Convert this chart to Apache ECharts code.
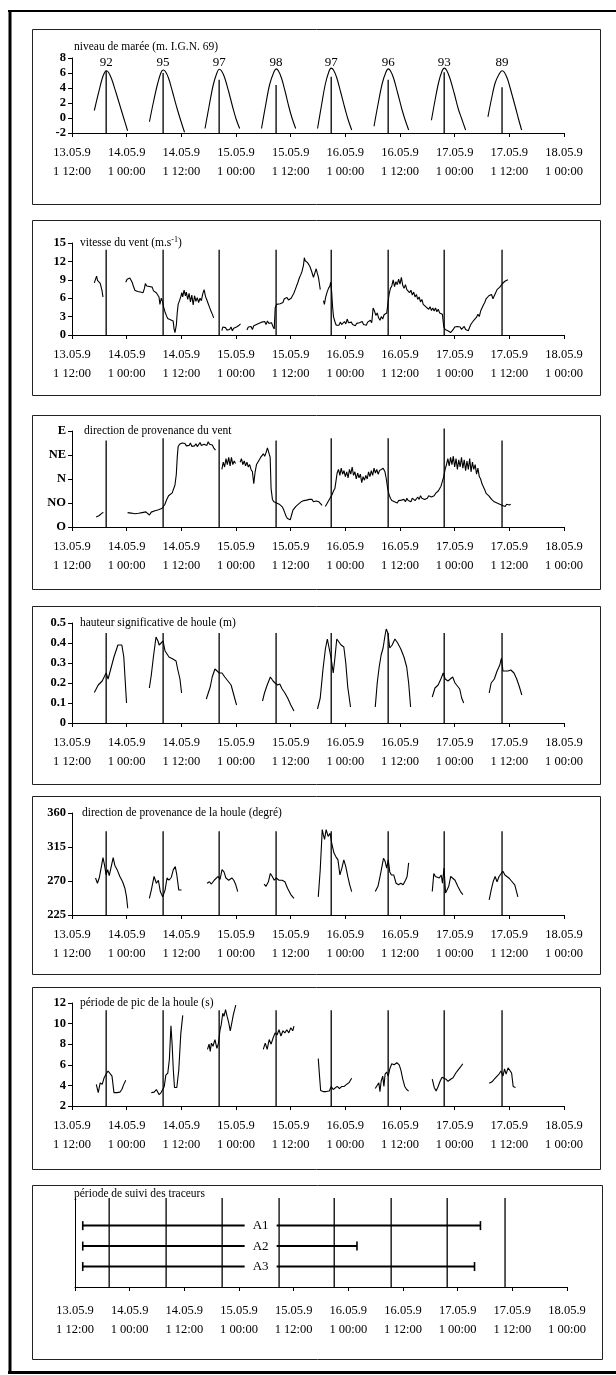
<!DOCTYPE html>
<html>
<head>
<meta charset="utf-8">
<script src="https://cdn.jsdelivr.net/npm/echarts@6/dist/echarts.min.js"></script>
<style>
html,body{margin:0;padding:0;background:#fff;}
#chart{width:616px;height:1375px;}
</style>
</head>
<body>
<div id="chart"></div>
<script>
// ---------------- DATA ----------------
// x values are hours after 13.05.91 12:00
const tickLabels = ['13.05.9\n1 12:00','14.05.9\n1 00:00','14.05.9\n1 12:00','15.05.9\n1 00:00','15.05.9\n1 12:00','16.05.9\n1 00:00','16.05.9\n1 12:00','17.05.9\n1 00:00','17.05.9\n1 12:00','18.05.9\n1 00:00'];
const highTideHours = [7.5, 20.0, 32.3, 44.8, 56.9, 69.4, 81.7, 94.4];
const tideCoef = [92, 95, 97, 98, 97, 96, 93, 89];
const tideLineTop = [6.3, 6.0, 5.1, 4.4, 5.5, 5.1, 6.1, 4.1];
const windDirLabels = ['O', 'NO', 'N', 'NE', 'E'];
const panelTitles = ['niveau de marée (m. I.G.N. 69)', 'vitesse du vent (m.s{sup|-1})', 'direction de provenance du vent', 'hauteur significative de houle (m)', 'direction de provenance de la houle (degré)', 'période de pic de la houle (s)', 'période de suivi des traceurs'];

const tideLevel = [
  [[4.9,1.0],[5.8,3.3],[6.6,5.2],[7.1,6.0],[7.5,6.3],[8.0,6.1],[8.7,5.2],[9.6,3.5],[10.6,1.5],[11.4,-0.1],[12.2,-1.7]],
  [[17.0,-0.5],[17.9,2.2],[18.8,4.6],[19.5,6.0],[20.0,6.4],[20.5,6.2],[21.2,5.3],[22.1,3.4],[23.1,1.2],[23.9,-0.4],[24.7,-1.9]],
  [[29.2,-1.4],[30.1,1.6],[31.0,4.4],[31.8,6.0],[32.3,6.5],[32.8,6.3],[33.5,5.4],[34.4,3.5],[35.3,1.4],[36.0,-0.1],[36.8,-1.4]],
  [[41.6,-1.4],[42.5,1.7],[43.4,4.5],[44.3,6.1],[44.8,6.55],[45.3,6.3],[46.0,5.3],[46.8,3.5],[47.6,1.5],[48.3,0.0],[49.1,-1.4]],
  [[53.9,-1.4],[54.8,1.8],[55.6,4.5],[56.4,6.2],[56.9,6.65],[57.4,6.4],[58.1,5.4],[59.0,3.4],[59.9,1.3],[60.6,-0.2],[61.4,-1.6]],
  [[66.3,-1.1],[67.2,1.9],[68.1,4.6],[68.9,6.1],[69.4,6.55],[69.9,6.3],[70.6,5.3],[71.5,3.3],[72.4,1.2],[73.1,-0.2],[73.9,-1.6]],
  [[78.9,-0.3],[79.7,2.4],[80.5,4.8],[81.2,6.2],[81.7,6.65],[82.2,6.4],[82.9,5.4],[83.9,3.3],[84.8,1.2],[85.6,-0.2],[86.4,-1.6]],
  [[91.3,0.15],[92.1,2.6],[92.9,4.7],[93.8,5.9],[94.4,6.3],[94.9,6.1],[95.6,5.2],[96.5,3.3],[97.4,1.3],[98.0,-0.1],[98.7,-1.6]]
];

const windSpeed = [
  [[4.9,8.5],[5.2,9.2],[5.4,9.6],[5.6,8.9],[5.8,9.0],[6.0,9.1],[6.2,8.4],[6.4,8.2],[6.6,7.2],[6.8,6.2]],
  [[11.8,8.6],[12.1,9.1],[12.4,8.8],[12.7,9.3],[12.9,9.6],[13.2,8.6],[13.5,7.9],[13.8,7.3],[14.1,7.6],[14.4,7.1],[14.7,7.4],[15.0,7.0],[15.3,7.3],[15.6,6.9],[15.9,7.6],[16.1,8.4],[16.4,8.0],[16.7,7.7],[17.0,7.9],[17.3,7.6],[17.6,7.8],[17.9,7.2],[18.2,7.4],[18.5,6.9],[18.8,6.6],[19.1,6.2],[19.3,5.0],[19.6,6.0],[19.9,5.4],[20.1,4.6],[20.4,3.8],[20.7,3.2],[21.0,2.7],[21.3,2.9],[21.6,2.5],[21.9,2.8],[22.2,2.3],[22.4,1.0],[22.6,0.4],[22.9,1.6],[23.1,3.6],[23.3,5.0],[23.6,5.6],[23.9,6.3],[24.1,6.9],[24.3,6.2],[24.6,7.3],[24.9,6.4],[25.1,7.0],[25.4,5.8],[25.7,6.8],[26.0,5.4],[26.3,6.5],[26.6,4.9],[26.9,6.4],[27.2,5.5],[27.5,6.1],[27.8,5.3],[28.1,6.0],[28.4,5.6],[28.7,6.7],[29.0,7.4],[29.3,6.3],[29.6,5.7],[29.9,5.1],[30.2,4.5],[30.5,3.9],[30.8,3.4],[31.1,2.8]],
  [[32.9,0.7],[33.1,1.3],[33.4,1.0],[33.7,1.2],[34.0,0.8],[34.3,1.1],[34.6,0.9],[34.9,1.3],[35.2,0.7],[35.5,1.1],[35.8,1.0],[36.1,1.3],[36.4,1.2],[36.7,1.6],[37.0,1.8]],
  [[38.4,0.8],[38.7,1.3],[39.0,1.0],[39.3,1.4],[39.6,0.9],[39.9,1.5],[40.2,1.2],[40.5,1.7],[40.8,1.4],[41.1,1.9],[41.4,1.6],[41.7,2.1],[42.0,1.8],[42.3,2.2],[42.6,1.7],[42.9,2.3],[43.2,1.9],[43.5,1.6],[43.8,2.0],[44.1,1.4],[44.4,1.0],[44.6,4.4],[44.9,5.0],[45.3,4.8],[45.7,5.1],[46.0,4.9],[46.3,5.3],[46.6,5.9],[46.9,5.6],[47.2,6.1],[47.5,5.7],[47.8,5.4],[48.1,6.0],[48.4,6.2],[48.7,6.8],[49.0,7.4],[49.3,7.6],[49.6,8.6],[49.9,9.3],[50.2,9.8],[50.5,10.4],[50.8,11.3],[51.0,12.6],[51.2,12.1],[51.4,12.4],[51.7,11.8],[51.9,12.0],[52.2,11.2],[52.5,10.6],[52.8,9.9],[53.0,9.4],[53.3,10.1],[53.6,10.8],[53.8,10.2],[54.1,9.4],[54.3,8.4],[54.5,7.4]],
  [[55.2,5.6],[55.4,5.0],[55.7,6.2],[56.0,7.0],[56.3,7.6],[56.6,8.0],[56.8,8.6],[57.0,7.0],[57.2,4.6],[57.4,3.0],[57.7,2.2],[58.0,1.6],[58.3,1.9],[58.6,1.6],[58.9,2.1],[59.2,1.7],[59.5,1.9],[59.8,2.2],[60.1,1.8],[60.4,2.6],[60.7,2.0],[61.0,1.8],[61.3,2.1],[61.6,1.7],[61.9,2.0],[62.2,1.5],[62.5,1.9],[62.8,1.6],[63.1,2.0],[63.4,1.8],[63.7,2.2],[64.0,1.7],[64.3,2.0],[64.6,1.6],[64.9,2.1],[65.2,1.9],[65.5,2.4],[65.8,2.0],[66.1,4.4],[66.4,3.9],[66.7,3.2],[67.0,3.6],[67.3,2.8],[67.6,2.4],[67.9,3.0],[68.2,2.6],[68.5,3.3],[68.8,3.0],[69.1,3.6],[69.4,5.5],[69.6,6.6],[69.9,7.6],[70.2,8.0],[70.5,9.0],[70.8,7.9],[71.1,8.7],[71.4,8.2],[71.7,9.1],[72.0,8.3],[72.3,9.4],[72.6,8.1],[72.9,7.6],[73.2,8.2],[73.5,7.4],[73.8,7.7],[74.1,6.9],[74.4,7.3],[74.7,6.5],[75.0,7.0],[75.3,6.2],[75.6,6.6],[75.9,5.8],[76.2,6.2],[76.5,5.4],[76.8,5.8],[77.1,5.0],[77.4,5.3],[77.7,4.6],[78.0,4.9],[78.3,4.2],[78.6,4.6],[78.9,4.0],[79.2,4.4],[79.5,3.9],[79.8,4.4],[80.1,3.8],[80.4,4.2],[80.7,3.6],[81.0,3.9],[81.3,3.4],[81.6,1.4],[81.9,0.9],[82.2,1.1],[82.5,0.7],[82.8,1.0],[83.1,0.4],[83.4,0.2],[83.7,0.9],[84.0,1.3],[84.3,1.0],[84.6,1.4],[84.9,1.1],[85.2,1.3],[85.5,0.9],[85.8,1.2],[86.1,1.4],[86.4,0.9],[86.7,1.2],[87.0,0.7],[87.3,1.3],[87.6,1.8],[87.9,1.6],[88.2,2.4],[88.5,2.1],[88.8,2.9],[89.1,3.4],[89.4,3.0],[89.7,3.9],[90.0,4.4],[90.3,4.9],[90.6,5.3],[90.9,5.9],[91.2,5.6],[91.5,6.4],[91.8,6.1],[92.1,6.6],[92.4,5.9],[92.7,6.2],[93.0,6.9],[93.3,7.4],[93.6,7.2],[93.9,7.8],[94.2,8.0],[94.5,8.4],[94.8,8.3],[95.1,8.8],[95.4,8.6],[95.7,9.0]]
];

// wind direction: 0=O, 1=NO, 2=N, 3=NE, 4=E
const windDir = [
  [[5.3,0.42],[5.6,0.50],[5.9,0.47],[6.2,0.55],[6.6,0.58],[6.9,0.60]],
  [[12.2,0.60],[12.6,0.62],[13.0,0.58],[13.4,0.65],[13.8,0.55],[14.2,0.62],[14.6,0.57],[15.0,0.52],[15.4,0.60],[15.8,0.55],[16.2,0.63],[16.6,0.58],[17.0,0.50],[17.4,0.62],[17.8,0.60],[18.2,0.68],[18.6,0.64],[19.0,0.72],[19.4,0.70],[19.8,0.78],[20.0,0.72],[20.4,0.95],[20.8,1.15],[21.2,1.30],[21.6,1.38],[22.0,1.42],[22.3,1.50],[22.6,1.75],[22.9,2.2],[23.1,2.9],[23.3,3.35],[23.6,3.45],[23.9,3.4],[24.2,3.5],[24.5,3.42],[24.8,3.48],[25.1,3.38],[25.4,3.46],[25.7,3.40],[26.0,3.5],[26.3,3.36],[26.6,3.44],[26.9,3.38],[27.2,3.47],[27.5,3.35],[27.8,3.42],[28.1,3.52],[28.4,3.4],[28.7,3.36],[29.0,3.45],[29.3,3.5],[29.6,3.4],[29.9,3.55],[30.2,3.45],[30.5,3.5],[30.8,3.42],[31.1,3.3],[31.3,3.38],[31.5,3.2]],
  [[32.9,2.4],[33.2,2.7],[33.5,2.5],[33.8,2.85],[34.1,2.6],[34.4,2.9],[34.7,2.55],[35.0,2.9],[35.3,2.6],[35.6,2.75],[35.9,2.65]],
  [[36.9,2.7],[37.2,2.85],[37.5,2.6],[37.8,2.75],[38.1,2.55],[38.4,2.7],[38.7,2.5],[39.0,2.6],[39.3,2.4],[39.6,2.3],[39.9,1.8],[40.2,2.3],[40.5,2.6],[40.8,2.7],[41.1,2.65],[41.4,2.9],[41.7,2.85],[42.0,3.05],[42.3,2.95],[42.6,3.1],[42.9,3.3],[43.2,3.35],[43.5,2.9],[43.7,1.6],[44.0,1.15],[44.3,1.05],[44.6,1.1],[44.9,1.0],[45.2,1.05],[45.5,0.95],[45.8,0.9],[46.1,0.85],[46.4,0.75],[46.7,0.6],[47.0,0.45],[47.3,0.35],[47.6,0.28],[47.9,0.3],[48.2,0.5],[48.5,0.7],[48.8,0.75],[49.1,0.85],[49.4,0.9],[49.7,0.95],[50.0,1.0],[50.3,1.05],[50.6,0.98],[50.9,1.1],[51.2,1.05],[51.5,1.12],[51.8,1.08],[52.1,1.15],[52.4,1.1],[52.7,1.15],[53.0,1.05],[53.3,1.1],[53.6,1.08],[53.9,1.12],[54.2,1.05],[54.5,1.0],[54.9,0.9]],
  [[55.6,0.85],[55.9,0.95],[56.2,1.05],[56.5,1.1],[56.8,1.25],[57.1,1.35],[57.4,1.5],[57.7,1.6],[57.9,1.85],[58.2,2.25],[58.5,2.4],[58.8,2.15],[59.1,2.45],[59.4,2.2],[59.7,2.35],[60.0,2.1],[60.3,2.3],[60.6,2.05],[60.9,2.4],[61.2,2.2],[61.5,2.5],[61.8,2.15],[62.1,2.3],[62.4,2.0],[62.7,2.25],[63.0,2.05],[63.3,2.2],[63.6,1.85],[63.9,2.1],[64.2,1.95],[64.5,2.15],[64.8,2.0],[65.1,2.3],[65.4,2.1],[65.7,2.35],[66.0,2.15],[66.3,2.45],[66.6,2.25],[66.9,2.4],[67.2,2.2],[67.5,2.35],[67.9,2.3],[68.3,2.45],[68.7,2.3],[69.0,2.0],[69.3,1.6],[69.6,1.35],[69.9,1.2],[70.2,1.1],[70.5,1.15],[70.8,1.05],[71.1,1.1],[71.4,1.0],[71.7,1.1],[72.0,1.05],[72.3,1.12],[72.6,1.08],[72.9,1.15],[73.2,1.05],[73.5,1.2],[73.8,1.1],[74.1,1.15],[74.4,1.05],[74.7,1.2],[75.0,1.15],[75.3,1.1],[75.6,1.15],[75.9,1.25],[76.2,1.15],[76.5,1.3],[76.8,1.2],[77.1,1.25],[77.4,1.15],[77.7,1.1],[78.0,1.2],[78.3,1.3],[78.6,1.35],[78.9,1.25],[79.2,1.2],[79.5,1.3],[79.8,1.4],[80.1,1.35],[80.4,1.5],[80.7,1.45],[81.0,1.7],[81.3,1.9],[81.6,2.1],[81.9,2.4],[82.2,2.6],[82.5,2.85],[82.8,2.55],[83.1,2.9],[83.4,2.6],[83.7,2.95],[84.0,2.5],[84.3,2.85],[84.6,2.4],[84.9,2.8],[85.2,2.5],[85.5,2.9],[85.8,2.45],[86.1,2.8],[86.4,2.35],[86.7,2.75],[87.0,2.4],[87.3,2.85],[87.6,2.3],[87.9,2.7],[88.2,2.4],[88.5,2.6],[88.8,2.2],[89.1,2.45],[89.4,2.1],[89.7,2.0],[90.0,1.8],[90.3,1.75],[90.6,1.55],[90.9,1.4],[91.2,1.45],[91.5,1.3],[91.8,1.25],[92.1,1.15],[92.4,1.2],[92.7,1.05],[93.0,1.1],[93.3,1.0],[93.6,1.05],[93.9,0.95],[94.2,1.0],[94.5,0.9],[94.8,0.95],[95.1,0.85],[95.4,0.95],[95.7,0.9],[96.0,0.92],[96.3,0.95]]
];

const waveHeight = [
  [[4.9,0.153],[5.76,0.19],[6.63,0.21],[7.06,0.22],[7.49,0.25],[7.92,0.22],[8.35,0.23],[9.21,0.33],[10.08,0.39],[10.51,0.40],[10.94,0.39],[11.37,0.33],[11.63,0.23],[11.97,0.10]],
  [[16.98,0.175],[17.41,0.24],[17.84,0.325],[18.44,0.43],[18.87,0.41],[19.13,0.39],[19.56,0.40],[19.99,0.41],[20.43,0.36],[20.86,0.35],[21.29,0.33],[21.72,0.34],[22.15,0.32],[22.84,0.31],[23.19,0.27],[23.70,0.22],[24.05,0.15]],
  [[29.48,0.12],[29.91,0.15],[30.34,0.18],[30.78,0.23],[31.38,0.27],[31.81,0.26],[32.33,0.25],[32.93,0.25],[33.54,0.23],[34.23,0.21],[34.92,0.19],[35.52,0.14],[36.12,0.09]],
  [[41.82,0.11],[42.25,0.15],[42.85,0.19],[43.54,0.23],[44.14,0.21],[44.58,0.20],[45.09,0.19],[45.61,0.195],[46.13,0.17],[46.73,0.15],[47.34,0.125],[48.03,0.09],[48.72,0.06]],
  [[53.89,0.07],[54.49,0.125],[55.10,0.27],[55.62,0.37],[56.05,0.42],[56.48,0.42],[56.91,0.32],[57.34,0.25],[57.69,0.32],[58.12,0.42],[58.55,0.41],[59.07,0.39],[59.67,0.38],[60.10,0.30],[60.53,0.18],[61.14,0.08]],
  [[66.57,0.08],[67.0,0.20],[67.43,0.28],[67.86,0.34],[68.29,0.375],[68.73,0.44],[68.98,0.47],[69.33,0.45],[69.76,0.375],[70.28,0.39],[70.88,0.42],[71.49,0.40],[72.18,0.37],[72.87,0.33],[73.47,0.28],[73.90,0.20],[74.33,0.08]],
  [[79.08,0.13],[79.68,0.175],[80.37,0.19],[80.97,0.22],[81.49,0.25],[81.92,0.22],[82.53,0.21],[83.04,0.22],[83.56,0.23],[84.08,0.20],[84.51,0.19],[85.11,0.17],[85.54,0.125],[85.98,0.10]],
  [[91.58,0.15],[92.01,0.20],[92.70,0.22],[93.31,0.26],[93.91,0.29],[94.26,0.325],[94.60,0.26],[95.12,0.26],[95.72,0.26],[96.33,0.265],[97.02,0.25],[97.62,0.22],[98.22,0.18],[98.74,0.14]]
];

const waveDir = [
  [[5.16,274],[5.59,267],[6.02,275],[6.45,289],[6.80,301],[7.14,291],[7.49,278],[7.83,285],[8.18,277],[8.61,289],[9.04,301],[9.39,291],[9.90,285],[10.51,276],[11.11,269],[11.63,260],[11.97,249],[12.23,234]],
  [[16.98,247],[17.41,258],[18.01,276],[18.53,267],[18.96,271],[19.39,256],[19.91,249],[20.43,258],[20.86,274],[21.29,271],[21.81,275],[22.24,285],[22.67,289],[23.01,278],[23.44,258],[24.05,258]],
  [[29.65,267],[30.17,269],[30.60,266],[31.21,271],[31.64,271],[32.07,276],[32.50,272],[32.93,285],[33.36,282],[33.79,274],[34.40,271],[35.09,274],[35.52,271],[35.95,265],[36.38,256]],
  [[42.16,266],[42.59,263],[43.11,269],[43.54,280],[43.97,276],[44.40,271],[44.83,274],[45.44,271],[46.13,271],[46.73,269],[47.34,260],[48.03,252],[48.72,247]],
  [[54.06,249],[54.49,285],[54.93,338],[55.18,331],[55.44,325],[55.79,338],[56.22,329],[56.65,333],[57.08,318],[57.51,307],[57.94,302],[58.38,298],[58.81,278],[59.24,287],[59.67,298],[60.10,289],[60.53,276],[60.96,265],[61.39,256]],
  [[66.57,256],[67.17,263],[67.69,278],[68.04,280],[68.38,300],[68.73,296],[69.07,287],[69.42,298],[69.76,282],[70.11,278],[70.62,278],[71.14,267],[71.66,265],[72.18,267],[72.69,265],[73.21,271],[73.56,276],[73.90,294]],
  [[79.08,256],[79.42,280],[79.77,276],[80.20,278],[80.63,274],[81.06,278],[81.32,267],[81.66,287],[82.01,254],[82.35,256],[82.70,263],[83.13,276],[83.56,274],[84.08,271],[84.68,263],[85.29,256],[85.80,252]],
  [[91.58,245],[92.01,258],[92.44,269],[92.88,276],[93.31,269],[93.74,276],[94.17,278],[94.60,283],[95.03,278],[95.46,276],[95.89,274],[96.33,271],[96.76,269],[97.19,265],[97.53,267],[97.88,249]]
];

const wavePeriod = [
  [[5.33,4.1],[5.76,3.3],[6.19,4.25],[6.63,4.1],[7.06,4.75],[7.49,5.1],[7.92,5.4],[8.35,5.3],[8.78,4.9],[9.21,3.3],[9.90,3.3],[10.51,3.35],[10.94,3.6],[11.37,4.1],[11.80,4.5]],
  [[17.41,3.3],[18.01,3.35],[18.53,3.6],[19.13,3.1],[19.56,3.3],[19.99,3.45],[20.25,3.9],[20.6,5.0],[21.03,5.2],[21.37,6.5],[21.72,9.8],[21.98,8.0],[22.24,5.5],[22.50,3.8],[23.01,3.8],[23.44,5.5],[23.88,9.0],[24.31,10.8]],
  [[29.74,7.5],[30.09,8.0],[30.34,7.3],[30.60,8.1],[30.95,7.8],[31.38,8.45],[31.81,7.6],[32.16,8.1],[32.50,9.4],[32.76,9.9],[33.10,11.0],[33.36,10.7],[33.71,11.35],[34.05,10.7],[34.40,10.1],[34.74,9.3],[35.09,10.1],[35.43,10.9],[35.78,11.5],[35.95,11.8]],
  [[41.99,7.5],[42.42,8.1],[42.85,7.5],[43.28,8.45],[43.71,8.0],[44.14,8.6],[44.58,9.1],[45.01,8.9],[45.44,9.4],[45.87,8.8],[46.30,9.3],[46.73,9.1],[47.16,9.4],[47.59,9.1],[48.03,9.6],[48.46,9.3],[48.72,9.75]],
  [[54.06,6.6],[54.32,5.0],[54.58,3.5],[55.10,3.4],[55.79,3.4],[56.48,3.45],[56.91,3.9],[57.34,3.6],[57.77,3.45],[58.20,3.9],[58.72,3.7],[59.24,3.9],[59.76,3.9],[60.27,4.1],[60.79,4.25],[61.39,4.7]],
  [[66.57,3.7],[67.0,3.6],[67.35,4.25],[67.60,3.4],[67.86,4.4],[68.21,4.9],[68.47,3.9],[68.73,5.1],[69.07,5.3],[69.42,4.9],[69.76,5.6],[70.19,6.1],[70.71,6.0],[71.31,6.2],[71.83,6.0],[72.18,5.5],[72.61,4.6],[73.04,3.9],[73.47,3.6],[73.90,3.45]],
  [[79.08,4.6],[79.51,3.8],[79.94,3.45],[80.37,3.9],[80.80,4.4],[81.23,4.8],[81.66,4.9],[82.09,4.6],[82.53,4.4],[83.13,4.6],[83.65,4.75],[84.25,5.2],[84.77,5.5],[85.29,5.8],[85.80,6.1]],
  [[91.58,4.2],[92.19,4.35],[92.70,4.6],[93.31,4.9],[93.74,5.1],[94.17,5.4],[94.60,4.9],[94.95,5.6],[95.29,5.1],[95.72,5.7],[96.15,5.8],[96.50,5.2],[96.84,3.9],[97.36,3.8]]
];

const tracerNames = ['A1', 'A2', 'A3'];
const tracerRow = [3, 2, 1];
const tracerStart = [1.7, 1.7, 1.7];
const tracerEnd = [89.0, 61.9, 87.7];
const tracerLabelHour = [40.75, 40.75, 40.75];

// ---------------- LAYOUT / STYLE ----------------
const FONT = '"Liberation Serif", "DejaVu Serif", serif';
const INK = '#000';
const panels = [
  {top: 58, h: 75, left: 72, box: [27, 202], min: -2, max: 8, interval: 2, margin: 10, title: [74, 47]},
  {top: 243, h: 92, left: 72, box: [218, 393], min: 0, max: 15, interval: 3, margin: 10, title: [80, 243]},
  {top: 431, h: 96, left: 72, box: [413, 587], min: 0, max: 4, interval: 1, margin: 10, title: [84, 431]},
  {top: 623, h: 100, left: 72, box: [604, 782], min: 0, max: 0.5, interval: 0.1, margin: 10, title: [80, 623]},
  {top: 813, h: 102, left: 72, box: [794, 972], min: 225, max: 360, interval: 45, margin: 10, title: [82, 813]},
  {top: 1003, h: 103, left: 72, box: [985, 1167], min: 2, max: 12, interval: 2, margin: 10, title: [80, 1003]},
  {top: 1198, h: 89, left: 75, box: [1183, 1357], min: 0, max: 4.35, interval: null, margin: 14, title: [74, 1194]}
];
const vTops = [tideLineTop, highTideHours.map(() => 13.9), [3.6, 3.7, 3.65, 3.6, 3.7, 3.7, 4.1, 3.6],
  highTideHours.map(() => 0.45), highTideHours.map(() => 336), highTideHours.map(() => 11.3), highTideHours.map(() => 4.35)];

const grids = [], xAxes = [], yAxes = [], series = [];
panels.forEach((p, i) => {
  grids.push({left: p.left, top: p.top, width: 492, height: p.h, containLabel: false});
  xAxes.push({
    type: 'value', gridIndex: i, min: 0, max: 108, interval: 12,
    axisLine: {show: true, onZero: false, lineStyle: {color: '#000', width: 1}},
    axisTick: {show: true, length: 4, lineStyle: {color: '#000'}},
    splitLine: {show: false},
    axisLabel: {
      show: true, margin: p.margin, fontFamily: FONT, fontSize: 12.5, color: INK, lineHeight: 19,
      align: 'center', hideOverlap: false, showMinLabel: true, showMaxLabel: true,
      formatter: v => tickLabels[Math.round(v / 12)] || ''
    }
  });
  const y = {
    type: 'value', gridIndex: i, min: p.min, max: p.max,
    axisLine: {show: true, onZero: false, lineStyle: {color: '#000', width: 1}},
    axisTick: {show: i !== 6, length: 4, lineStyle: {color: '#000'}},
    splitLine: {show: false},
    axisLabel: {show: i !== 6, margin: 6, fontFamily: FONT, fontSize: 12.5, fontWeight: 'bold', color: INK, showMinLabel: true, showMaxLabel: true}
  };
  if (p.interval) y.interval = p.interval;
  if (i === 2) y.axisLabel.formatter = v => windDirLabels[Math.round(v)] || '';
  yAxes.push(y);
  // high tide vertical lines
  series.push({
    type: 'custom', xAxisIndex: i, yAxisIndex: i, silent: true, clip: false,
    data: highTideHours.map((h, k) => [h, p.min, vTops[i][k]]),
    renderItem: (params, api) => {
      const a = api.coord([api.value(0), api.value(1)]);
      const b = api.coord([api.value(0), api.value(2)]);
      return {type: 'line', shape: {x1: a[0], y1: a[1], x2: b[0], y2: b[1]}, style: {stroke: '#000', lineWidth: 1.3}};
    }
  });
});

function addSegments(idx, segs, smooth) {
  segs.forEach(seg => series.push({
    type: 'line', xAxisIndex: idx, yAxisIndex: idx, data: seg, symbol: 'none', smooth: smooth || false,
    lineStyle: {color: '#000', width: 1.1}, silent: true
  }));
}
addSegments(0, tideLevel, 0.35);
addSegments(1, windSpeed);
addSegments(2, windDir);
addSegments(3, waveHeight);
addSegments(4, waveDir);
addSegments(5, wavePeriod);

// text marks placed through the axes (custom series)
function textSeries(idx, data, fontSize, boxW) {
  return {
    type: 'custom', xAxisIndex: idx, yAxisIndex: idx, silent: true, clip: false, z: 10,
    data: data,
    renderItem: (params, api) => {
      const c = api.coord([api.value(0), api.value(1)]);
      const txt = String(data[params.dataIndex][2]);
      const children = [];
      if (boxW) children.push({type: 'rect', shape: {x: c[0] - boxW / 2, y: c[1] - 6, width: boxW, height: 12}, style: {fill: '#fff'}});
      children.push({type: 'text', x: c[0], y: c[1], style: {text: txt, fill: '#000', font: fontSize + 'px ' + FONT, align: 'center', verticalAlign: 'middle'}});
      return {type: 'group', children: children};
    }
  };
}
series.push(textSeries(0, highTideHours.map((h, k) => [h, 7.45, tideCoef[k]]), 13, 0));

// tracer periods
tracerNames.forEach((name, k) => {
  series.push({
    type: 'line', xAxisIndex: 6, yAxisIndex: 6, silent: true,
    data: [[tracerStart[k], tracerRow[k]], [tracerEnd[k], tracerRow[k]]],
    symbol: 'rect', symbolSize: [1.6, 9], showSymbol: true,
    itemStyle: {color: '#000'}, lineStyle: {color: '#000', width: 2}
  });
});
series.push(textSeries(6, tracerNames.map((n, k) => [tracerLabelHour[k], tracerRow[k], n]), 13, 32));

// frames and titles
const graphic = [];
panels.forEach((p, i) => {
  graphic.push({type: 'rect', left: 30, top: p.box[0], shape: {x: 0, y: 0, width: i === 6 ? 570 : 568, height: p.box[1] - p.box[0]},
    style: {fill: 'none', stroke: '#222', lineWidth: 1}, silent: true, z: -1});
  graphic.push({type: 'text', x: p.title[0], y: p.title[1], silent: true,
    style: {text: panelTitles[i], font: '11.5px ' + FONT, fill: INK, verticalAlign: 'middle', align: 'left',
      rich: {sup: {fontSize: 8, fontFamily: FONT, fill: INK, padding: [0, 0, 7, 0]}}}});
});
graphic.push({type: 'line', shape: {x1: 8, y1: 11, x2: 616, y2: 11}, style: {stroke: '#000', lineWidth: 2}, silent: true});
graphic.push({type: 'line', shape: {x1: 10, y1: 10, x2: 10, y2: 1374}, style: {stroke: '#000', lineWidth: 3}, silent: true});
graphic.push({type: 'line', shape: {x1: 8, y1: 1372.5, x2: 616, y2: 1372.5}, style: {stroke: '#000', lineWidth: 3}, silent: true});

const chart = echarts.init(document.getElementById('chart'), null, {renderer: 'canvas'});
chart.setOption({
  animation: false,
  backgroundColor: '#fff',
  grid: grids, xAxis: xAxes, yAxis: yAxes, series: series, graphic: graphic
});
</script>
</body>
</html>
